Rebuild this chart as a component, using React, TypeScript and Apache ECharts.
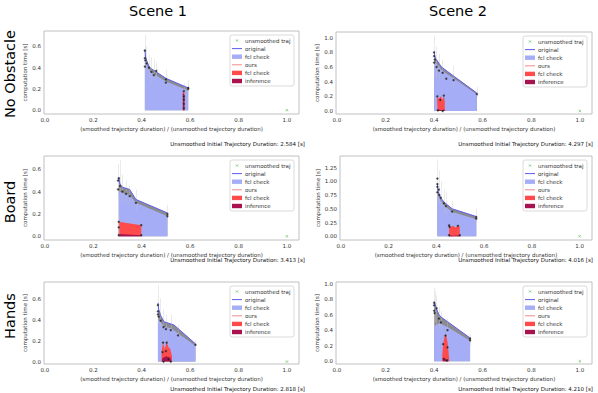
import React, { useEffect, useRef } from "react";
import * as echarts from "echarts";

// ---------- data ----------
const sceneTitles = ["Scene 1", "Scene 2"];
const rowTitles = ["No Obstacle", "Board", "Hands"];
const durations = ["2.584", "4.297", "3.413", "4.016", "2.818", "4.210"];
const xTicks = [0, 0.2, 0.4, 0.6, 0.8, 1.0];
const yTicks = [
  [0, 0.2, 0.4, 0.6],
  [0, 0.2, 0.4, 0.6, 0.8, 1.0],
  [0, 0.2, 0.4, 0.6],
  [0, 0.25, 0.5, 0.75, 1.0, 1.25],
  [0, 0.2, 0.4, 0.6],
  [0, 0.2, 0.4, 0.6, 0.8, 1.0],
];
const yMins = [-0.035, -0.041, -0.033, -0.067, -0.023, -0.035];
const yMaxs = [0.745, 1.078, 0.72, 1.46, 0.76, 1.02];
const legendLabels = ["unsmoothed traj", "original", "fcl check", "ours", "fcl check", "inference"];
const unsmoothed = [[1.0, 0.0]];

// panel 1: No Obstacle / Scene 1
const p1Original = [[0.413, 0.57], [0.416, 0.5], [0.42, 0.47], [0.43, 0.41], [0.44, 0.39], [0.45, 0.375], [0.5, 0.3], [0.592, 0.21]];
const p1FclCheck = [[0.413, 0.53], [0.416, 0.465], [0.42, 0.435], [0.43, 0.375], [0.44, 0.35], [0.45, 0.34], [0.5, 0.27], [0.592, 0.185]];
const p1OursFcl = [[0.57, 0.17], [0.574, 0.18], [0.578, 0.16]];
const p1Inference = [[0.57, 0.15], [0.574, 0.16], [0.578, 0.14]];
const p1Points = [[0.413, 0.56], [0.413, 0.49], [0.415, 0.47], [0.413, 0.41], [0.42, 0.44], [0.43, 0.4], [0.44, 0.36], [0.45, 0.33], [0.46, 0.37], [0.5, 0.26], [0.5, 0.29], [0.592, 0.2], [0.592, 0.21], [0.574, 0.18], [0.574, 0.13], [0.574, 0.1], [0.574, 0.06], [0.574, 0.02]];
const p1Errors = [[0.413, 0.38, 0.71], [0.42, 0.4, 0.6], [0.43, 0.3, 0.52], [0.44, 0.25, 0.5], [0.45, 0.28, 0.48], [0.46, 0.3, 0.45], [0.5, 0.22, 0.38], [0.574, 0.0, 0.25], [0.592, 0.16, 0.28]];

// panel 2: No Obstacle / Scene 2
const p2Original = [[0.4, 0.8], [0.405, 0.72], [0.41, 0.7], [0.42, 0.65], [0.43, 0.6], [0.455, 0.54], [0.483, 0.47], [0.576, 0.245]];
const p2FclCheck = [[0.4, 0.64], [0.405, 0.66], [0.41, 0.64], [0.42, 0.6], [0.43, 0.56], [0.455, 0.5], [0.483, 0.44], [0.576, 0.225]];
const p2OursFcl = [[0.412, 0.15], [0.414, 0.19], [0.42, 0.17], [0.428, 0.2], [0.435, 0.15], [0.44, 0.21], [0.444, 0.12]];
const p2Inference = [[0.414, 0.02], [0.43, 0.01], [0.444, 0.02]];
const p2Points = [[0.4, 0.8], [0.4, 0.75], [0.4, 0.66], [0.403, 0.7], [0.41, 0.6], [0.42, 0.55], [0.435, 0.52], [0.45, 0.44], [0.48, 0.42], [0.576, 0.23], [0.413, 0.2], [0.425, 0.15], [0.44, 0.21], [0.415, 0.01], [0.435, 0.0]];
const p2Errors = [[0.4, 0.45, 1.03], [0.41, 0.45, 0.88], [0.42, 0.4, 0.78], [0.435, 0.42, 0.7], [0.48, 0.3, 0.62], [0.576, 0.19, 0.33]];

// panel 3: Board / Scene 1
const p3Original = [[0.305, 0.53], [0.31, 0.47], [0.32, 0.44], [0.335, 0.43], [0.35, 0.42], [0.376, 0.33], [0.506, 0.21]];
const p3FclCheck = [[0.305, 0.41], [0.31, 0.4], [0.32, 0.39], [0.335, 0.38], [0.35, 0.37], [0.376, 0.3], [0.506, 0.18]];
const p3OursFcl = [[0.305, 0.13], [0.398, 0.1]];
const p3Inference = [[0.305, 0.02], [0.398, 0.01]];
const p3Points = [[0.302, 0.5], [0.302, 0.42], [0.305, 0.52], [0.31, 0.45], [0.32, 0.4], [0.335, 0.38], [0.35, 0.36], [0.376, 0.3], [0.506, 0.2], [0.506, 0.18], [0.305, 0.13], [0.305, 0.08], [0.398, 0.1], [0.398, 0.01], [0.305, 0.01]];
const p3Errors = [[0.302, 0.35, 0.65], [0.31, 0.4, 0.68], [0.32, 0.3, 0.55], [0.335, 0.3, 0.5], [0.35, 0.28, 0.45], [0.376, 0.22, 0.42], [0.506, 0.12, 0.28], [0.305, 0.0, 0.2]];

// panel 4: Board / Scene 2
const p4Original = [[0.404, 0.95], [0.407, 0.82], [0.412, 0.76], [0.418, 0.7], [0.432, 0.62], [0.466, 0.5], [0.567, 0.36]];
const p4FclCheck = [[0.404, 0.77], [0.407, 0.75], [0.412, 0.7], [0.418, 0.64], [0.432, 0.56], [0.466, 0.44], [0.567, 0.31]];
const p4OursFcl = [[0.453, 0.2], [0.46, 0.17], [0.47, 0.19], [0.48, 0.16], [0.49, 0.19], [0.498, 0.18]];
const p4Inference = [[0.453, 0.02], [0.475, 0.01], [0.498, 0.02]];
const p4Points = [[0.404, 1.05], [0.404, 0.95], [0.404, 0.9], [0.404, 0.8], [0.41, 0.85], [0.412, 0.75], [0.418, 0.7], [0.432, 0.6], [0.44, 0.55], [0.466, 0.45], [0.567, 0.35], [0.567, 0.32], [0.453, 0.2], [0.455, 0.17], [0.453, 0.02], [0.498, 0.02], [0.49, 0.19]];
const p4Errors = [[0.404, 0.65, 1.4], [0.41, 0.6, 1.2], [0.42, 0.55, 1.0], [0.432, 0.4, 0.85], [0.44, 0.4, 0.8], [0.466, 0.3, 0.65], [0.567, 0.25, 0.5]];

// panel 5: Hands / Scene 1
const p5Original = [[0.467, 0.56], [0.47, 0.5], [0.478, 0.44], [0.492, 0.38], [0.52, 0.36], [0.533, 0.35], [0.622, 0.17]];
const p5FclCheck = [[0.467, 0.42], [0.47, 0.4], [0.478, 0.38], [0.492, 0.33], [0.52, 0.32], [0.533, 0.3], [0.622, 0.15]];
const p5OursFcl = [[0.482, 0.1], [0.488, 0.18], [0.495, 0.12], [0.503, 0.19], [0.51, 0.14], [0.518, 0.12], [0.525, 0.05]];
const p5Inference = [[0.484, 0.03], [0.5, 0.05], [0.518, 0.04], [0.522, 0.01]];
const p5Points = [[0.467, 0.54], [0.467, 0.48], [0.467, 0.45], [0.47, 0.43], [0.478, 0.39], [0.49, 0.33], [0.5, 0.31], [0.52, 0.3], [0.55, 0.25], [0.622, 0.16], [0.488, 0.18], [0.486, 0.09], [0.503, 0.18], [0.5, 0.1], [0.49, 0.0], [0.51, 0.02], [0.52, 0.0]];
const p5Errors = [[0.467, 0.35, 0.73], [0.475, 0.3, 0.6], [0.49, 0.2, 0.5], [0.5, 0.2, 0.45], [0.52, 0.25, 0.45], [0.55, 0.2, 0.35], [0.622, 0.12, 0.2]];

// panel 6: Hands / Scene 2
const p6Original = [[0.4, 0.77], [0.405, 0.73], [0.41, 0.67], [0.42, 0.6], [0.428, 0.57], [0.455, 0.51], [0.548, 0.3]];
const p6FclCheck = [[0.4, 0.45], [0.405, 0.46], [0.41, 0.47], [0.42, 0.49], [0.428, 0.48], [0.455, 0.44], [0.548, 0.265]];
const p6OursFcl = [[0.433, 0.05], [0.437, 0.22], [0.443, 0.33], [0.448, 0.35], [0.455, 0.25], [0.46, 0.1], [0.462, 0.02]];
const p6Inference = [[0.437, 0.04], [0.447, 0.03], [0.458, 0.02]];
const p6Points = [[0.4, 0.75], [0.4, 0.72], [0.4, 0.65], [0.402, 0.62], [0.41, 0.68], [0.42, 0.55], [0.428, 0.5], [0.455, 0.4], [0.548, 0.29], [0.548, 0.27], [0.437, 0.22], [0.447, 0.33], [0.455, 0.18], [0.44, 0.03], [0.452, 0.01]];
const p6Errors = [[0.4, 0.45, 0.95], [0.405, 0.5, 0.9], [0.41, 0.45, 0.85], [0.42, 0.4, 0.7], [0.428, 0.35, 0.65], [0.455, 0.3, 0.55], [0.548, 0.2, 0.35]];

const panels = [
  { original: p1Original, fcl: p1FclCheck, ours: p1OursFcl, inf: p1Inference, pts: p1Points, err: p1Errors },
  { original: p2Original, fcl: p2FclCheck, ours: p2OursFcl, inf: p2Inference, pts: p2Points, err: p2Errors },
  { original: p3Original, fcl: p3FclCheck, ours: p3OursFcl, inf: p3Inference, pts: p3Points, err: p3Errors },
  { original: p4Original, fcl: p4FclCheck, ours: p4OursFcl, inf: p4Inference, pts: p4Points, err: p4Errors },
  { original: p5Original, fcl: p5FclCheck, ours: p5OursFcl, inf: p5Inference, pts: p5Points, err: p5Errors },
  { original: p6Original, fcl: p6FclCheck, ours: p6OursFcl, inf: p6Inference, pts: p6Points, err: p6Errors },
];

// ---------- layout / style ----------
const FONT = "DejaVu Sans";
const grids = [
  { left: 44, top: 31, width: 255, height: 83 },
  { left: 336, top: 32, width: 256, height: 82 },
  { left: 44, top: 156, width: 255, height: 84 },
  { left: 340, top: 156, width: 252, height: 84 },
  { left: 44, top: 282, width: 255, height: 82 },
  { left: 336, top: 282, width: 256, height: 82 },
];
const yNameGaps = [13, 13, 13, 17, 13, 13];
const C_BLUE_FILL = "#a5adf6";
const C_GRAY = "#8c8c90";
const C_BLUE_LINE = "#5c5cee";
const C_OURS_LINE = "#f28a8a";
const C_RED = "#ff4b4b";
const C_CRIMSON = "#a8124e";
const C_GREEN = "#5cb85c";
const C_FRAME = "#c0c0c0";
const C_TEXT = "#333333";

function buildOption() {
  const grid: any[] = [];
  const xAxis: any[] = [];
  const yAxis: any[] = [];
  const series: any[] = [];
  const graphic: any[] = [];

  panels.forEach((p, i) => {
    const g = grids[i];
    grid.push({ ...g, show: true, borderColor: C_FRAME, borderWidth: 1, containLabel: false });
    xAxis.push({
      gridIndex: i, type: "value", min: -0.004, max: i === 3 ? 1.052 : 1.05,
      splitLine: { show: false }, axisLine: { show: false }, axisTick: { show: false },
      axisLabel: { customValues: xTicks, formatter: (v: number) => v.toFixed(1), fontSize: 5.5, color: C_TEXT, margin: 3, fontFamily: FONT },
      name: "(smoothed trajectory duration) / (unsmoothed trajectory duration)",
      nameLocation: "middle", nameGap: 12,
      nameTextStyle: { fontSize: 5.5, color: C_TEXT, fontFamily: FONT },
    });
    const dec = i === 3 ? 2 : 1;
    yAxis.push({
      gridIndex: i, type: "value", min: yMins[i], max: yMaxs[i],
      splitLine: { show: false }, axisLine: { show: false }, axisTick: { show: false },
      axisLabel: { customValues: yTicks[i], formatter: (v: number) => v.toFixed(dec), fontSize: 5.5, color: C_TEXT, margin: 3, fontFamily: FONT },
      name: "computation time [s]", nameLocation: "middle", nameGap: yNameGaps[i],
      nameTextStyle: { fontSize: 5.5, color: C_TEXT, fontFamily: FONT },
    });
    const ax = { xAxisIndex: i, yAxisIndex: i };
    series.push({ ...ax, type: "line", data: p.original, symbol: "none", lineStyle: { width: 0 }, areaStyle: { color: C_GRAY, opacity: 1 }, z: 1 });
    series.push({ ...ax, type: "line", data: p.fcl, symbol: "none", lineStyle: { width: 0 }, areaStyle: { color: C_BLUE_FILL, opacity: 1 }, z: 2 });
    series.push({ ...ax, type: "line", data: p.ours, symbol: "none", lineStyle: { width: 0 }, areaStyle: { color: C_RED, opacity: 1 }, z: 3 });
    series.push({ ...ax, type: "line", data: p.inf, symbol: "none", lineStyle: { width: 0 }, areaStyle: { color: C_CRIMSON, opacity: 1 }, z: 4 });
    series.push({
      ...ax, type: "lines", coordinateSystem: "cartesian2d", polyline: false,
      data: p.err.map((e) => ({ coords: [[e[0], e[1]], [e[0], e[2]]] })),
      lineStyle: { color: "rgba(195,195,195,0.7)", width: 1 }, z: 5,
    });
    series.push({ ...ax, type: "line", data: p.original, symbol: "none", lineStyle: { width: 1, color: C_BLUE_LINE }, z: 6 });
    series.push({ ...ax, type: "scatter", data: p.pts, symbol: "circle", symbolSize: 2, itemStyle: { color: "#111", borderColor: "#666", borderWidth: 0.3 }, z: 7 });
    series.push({
      ...ax, type: "scatter", data: unsmoothed, symbol: "path://M0,0L10,10M10,0L0,10M0,10", symbolSize: 2.4,
      itemStyle: { color: C_GREEN, borderColor: C_GREEN, borderWidth: 0.8 }, z: 7,
    });

    // legend box
    const bw = 64, bh = 51;
    const bx = g.left + g.width - bw - 5;
    const by = g.top + 4;
    const children: any[] = [
      { type: "rect", shape: { x: 0, y: 0, width: bw, height: bh, r: 2 }, style: { fill: "rgba(255,255,255,0.85)", stroke: "#d0d0d0", lineWidth: 0.8 } },
    ];
    legendLabels.forEach((lab, k) => {
      const cy = 5.5 + k * 8.1;
      if (k === 0) {
        children.push({ type: "line", shape: { x1: 6, y1: cy - 1, x2: 8, y2: cy + 1 }, style: { stroke: C_GREEN, lineWidth: 0.7 } });
        children.push({ type: "line", shape: { x1: 8, y1: cy - 1, x2: 6, y2: cy + 1 }, style: { stroke: C_GREEN, lineWidth: 0.7 } });
      } else if (k === 1 || k === 3) {
        children.push({ type: "line", shape: { x1: 2, y1: cy, x2: 12, y2: cy }, style: { stroke: k === 1 ? C_BLUE_LINE : C_OURS_LINE, lineWidth: 1 } });
      } else {
        const col = k === 2 ? C_BLUE_FILL : k === 4 ? C_RED : C_CRIMSON;
        children.push({ type: "rect", shape: { x: 2, y: cy - 2.2, width: 10, height: 4.4 }, style: { fill: col } });
      }
      children.push({ type: "text", x: 15, y: cy, style: { text: lab, fontSize: 5.5, fill: C_TEXT, fontFamily: FONT, verticalAlign: "middle", align: "left" } });
    });
    graphic.push({ type: "group", x: bx, y: by, z: 100, children });

    // duration text
    const row = Math.floor(i / 2);
    const col = i % 2;
    const ty = [144, 260, 389][row];
    graphic.push({
      type: "text", x: col === 0 ? 305 : 593, y: ty,
      style: { text: `Unsmoothed Initial Trajectory Duration: ${durations[i]} [s]`, fontSize: 5.5, fill: "#111", fontFamily: FONT, align: "right", verticalAlign: "middle" },
    });
  });

  sceneTitles.forEach((t, c) => {
    graphic.push({ type: "text", x: c === 0 ? 158 : 458, y: 11, style: { text: t, fontSize: 14.5, fill: "#000", fontFamily: FONT, align: "center", verticalAlign: "middle" } });
  });
  const rowCenters = [74, 202, 316];
  rowTitles.forEach((t, r) => {
    graphic.push({ type: "text", x: 10, y: rowCenters[r], rotation: Math.PI / 2, style: { text: t, fontSize: 14.5, fill: "#000", fontFamily: FONT, align: "center", verticalAlign: "middle" } });
  });

  return {
    animation: false,
    backgroundColor: "#ffffff",
    textStyle: { fontFamily: FONT },
    grid, xAxis, yAxis, series, graphic,
  };
}

export default function App() {
  const ref = useRef<HTMLDivElement>(null);
  useEffect(() => {
    if (!ref.current) return;
    const chart = echarts.init(ref.current, undefined, { renderer: "svg" });
    chart.setOption(buildOption() as any);
    return () => chart.dispose();
  }, []);
  return <div ref={ref} style={{ position: "absolute", left: 0, top: 0, width: 598, height: 393 }} />;
}
